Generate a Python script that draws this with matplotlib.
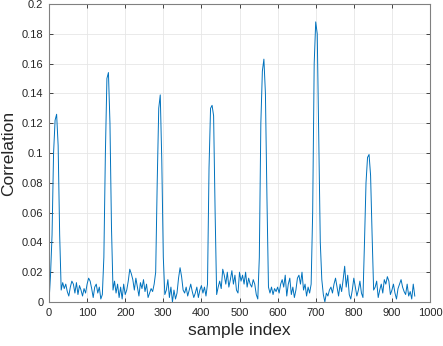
import numpy as np
import matplotlib
matplotlib.use('Agg')
import matplotlib.pyplot as plt

# correlation values, one every 4 samples (0..960)
corr = [
    0.000, 0.018, 0.045, 0.100, 0.122, 0.126, 0.105, 0.045, 0.008, 0.013,  # 0-36
    0.009, 0.012, 0.007, 0.004, 0.010, 0.014, 0.012, 0.006, 0.013, 0.005,  # 40-76
    0.011, 0.008, 0.004, 0.009, 0.006, 0.012, 0.016, 0.014, 0.009, 0.003,  # 80-116
    0.010, 0.012, 0.006, 0.010, 0.002, 0.005,                              # 120-140
    0.030, 0.100, 0.150, 0.154, 0.120, 0.050, 0.008, 0.014,                # 144-172
    0.006, 0.012, 0.003, 0.010, 0.002, 0.012, 0.005, 0.008, 0.014, 0.022,  # 176-212
    0.019, 0.015, 0.008, 0.016, 0.010, 0.004, 0.013, 0.009, 0.015, 0.007,  # 216-252
    0.012, 0.003, 0.006, 0.009, 0.007, 0.012, 0.020,                       # 256-280
    0.080, 0.130, 0.139, 0.095, 0.030, 0.005, 0.008, 0.015, 0.003, 0.010,  # 284-320
    0.000, 0.008, 0.002, 0.006, 0.016, 0.023, 0.017, 0.008, 0.006, 0.010,  # 324-360
    0.004, 0.008, 0.012, 0.007, 0.003, 0.006, 0.010, 0.003, 0.008, 0.011,  # 364-400
    0.006, 0.010, 0.004, 0.012,                                            # 404-416
    0.090, 0.130, 0.132, 0.125, 0.060, 0.005, 0.010, 0.014, 0.009, 0.022,  # 420-456
    0.018, 0.012, 0.020, 0.010, 0.015, 0.021, 0.012, 0.018, 0.008, 0.006,  # 460-496
    0.020, 0.014, 0.018, 0.012, 0.020, 0.010, 0.016, 0.012, 0.010, 0.015,  # 500-536
    0.012, 0.005, 0.002, 0.030,                                            # 540-552
    0.120, 0.155, 0.163, 0.140, 0.070, 0.010, 0.006, 0.010, 0.005, 0.009,  # 556-592
    0.007, 0.010, 0.006, 0.012, 0.015, 0.010, 0.018, 0.004, 0.012, 0.016,  # 596-632
    0.005, 0.010, 0.003, 0.008, 0.016, 0.018, 0.012, 0.020, 0.008, 0.012,  # 636-672
    0.004, 0.010, 0.006, 0.012, 0.060,                                     # 676-692
    0.160, 0.188, 0.180, 0.110, 0.040, 0.015, 0.005, 0.000, 0.006, 0.004,  # 696-732
    0.008, 0.010, 0.006, 0.012, 0.016, 0.010, 0.004, 0.012, 0.007, 0.015,  # 736-772
    0.024, 0.010, 0.018, 0.005, 0.002, 0.008, 0.016, 0.010, 0.004, 0.008,  # 776-812
    0.014, 0.006, 0.003, 0.040,                                            # 816-828
    0.080, 0.097, 0.099, 0.085, 0.045, 0.008, 0.010, 0.014, 0.003, 0.008,  # 832-868
    0.012, 0.006, 0.015, 0.012, 0.017, 0.014, 0.005, 0.008, 0.012, 0.006,  # 872-908
    0.002, 0.009, 0.012, 0.015, 0.010, 0.007, 0.005, 0.012, 0.004, 0.007,  # 912-948
    0.002, 0.012, 0.004,                                                   # 952-960
]
sample_idx = np.arange(len(corr)) * 4

xticks = np.arange(0, 1001, 100)
yticks = np.arange(0, 0.201, 0.02)
ytick_labels = ['0', '0.02', '0.04', '0.06', '0.08', '0.1', '0.12', '0.14', '0.16', '0.18', '0.2']

plt.rcParams['font.family'] = ['Liberation Sans', 'DejaVu Sans']

fig = plt.figure(figsize=(4.43, 3.46), dpi=100)
ax = fig.add_axes([0.1106, 0.1272, 0.8601, 0.8612])

ax.plot(sample_idx, corr, color='#0072BD', lw=0.7)

ax.set_xlim(0, 1000)
ax.set_ylim(0, 0.2)
ax.set_xticks(xticks)
ax.set_yticks(yticks)
ax.set_yticklabels(ytick_labels)
ax.grid(True, color='#e6e6e6', lw=0.6)
ax.set_axisbelow(True)
ax.tick_params(direction='in', length=3, width=0.6, colors='#262626', labelsize=8,
               top=True, right=True, pad=4)
for s in ax.spines.values():
    s.set_color('#808080')
    s.set_linewidth(0.8)

ax.set_xlabel('sample index', fontsize=12.5, color='#262626', labelpad=4)
ax.set_ylabel('Correlation', fontsize=12.5, color='#262626', labelpad=4)

fig.savefig('out.png', dpi=100)
